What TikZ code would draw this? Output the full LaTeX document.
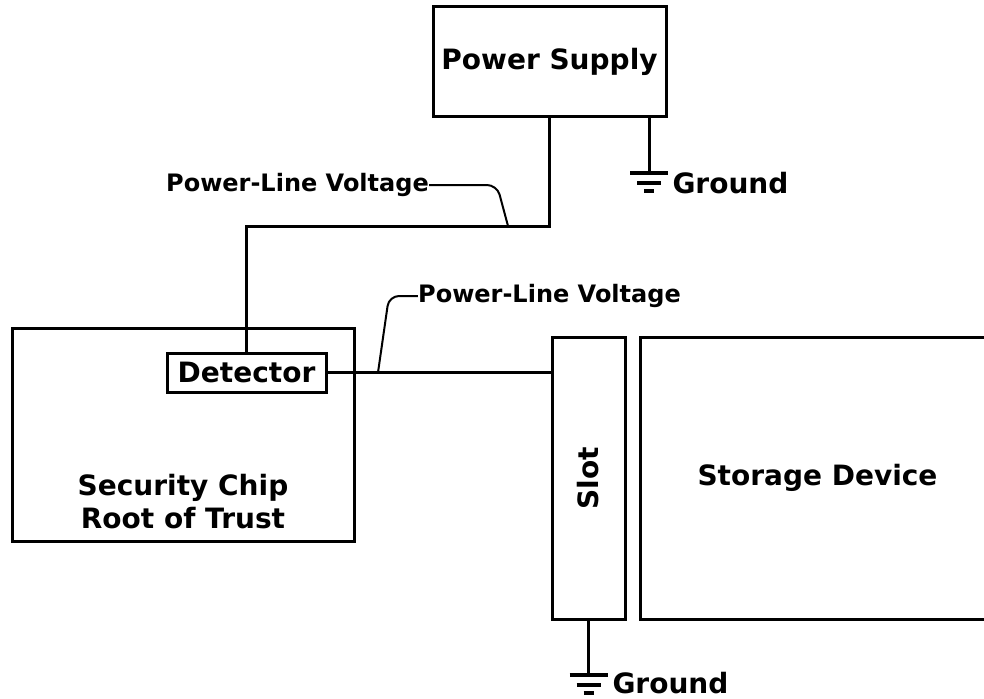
\documentclass[tikz,border=0pt]{standalone}
\usepackage{fontspec}
\setmainfont{DejaVu Sans}
\usetikzlibrary{positioning}
\tikzset{
  box/.style={draw, line width=3pt, rectangle, inner sep=0pt, font=\bfseries\fontsize{28}{33}\selectfont},
  lbl/.style={font=\bfseries\fontsize{24}{28}\selectfont, inner sep=0pt},
  wire/.style={line width=3pt},
  lead/.style={line width=2pt, rounded corners=10pt},
  gndsym/.pic={
    \foreach \w/\d in {19/0,12/10,5/18}
      \draw[line width=3.2pt] (-\w,\d) -- (\w,\d);
  }
}
\begin{document}
\begin{tikzpicture}[x=1pt, y=-1pt]
    \useasboundingbox (0,0) rectangle (984,698);
    % boxes
    \node[box, minimum width=233, minimum height=110] (ps) at (549.5,62) {Power Supply};
    \node[box, minimum width=342, minimum height=213] (chip) at (183,434.5) {};
    \node[font=\bfseries\fontsize{28}{33}\selectfont, align=center] (chiptxt) at (183,502) {Security Chip\\Root of Trust};
    \node[box, minimum width=159, minimum height=39] (det) at (246.5,372.5) {Detector};
    \node[box, minimum width=73, minimum height=282] (slot) at (588.5,478) {\rotatebox{90}{Slot}};
    \node[box, minimum width=355, minimum height=282] (store) at (817.5,478) {Storage Device};
    % grounds
    \coordinate (gnd1) at (649,173);
    \coordinate (gnd2) at (588.5,675);
    \draw[wire] (ps.south -| gnd1) -- (gnd1);
    \draw[wire] (slot.south) -- (gnd2);
    \pic at (gnd1) {gndsym};
    \pic at (gnd2) {gndsym};
    \node[box, draw=none, anchor=base west] (gtxt1) at (671,193) {Ground};
    \node[box, draw=none, anchor=base west] (gtxt2) at (611,693) {Ground};
    % power lines
    \draw[wire] (ps.south) -- (ps.south |- 0,226) -| (det.north);
    \draw[wire] (det.east) -- (det.east -| slot.west);
    % labels
    \node[lbl] (pv1) at (297.5,185) {Power-Line Voltage};
    \node[lbl] (pv2) at (549.5,296) {Power-Line Voltage};
    \coordinate (tap1) at (508,226);
    \coordinate (tap2) at (378,372.5);
    \draw[lead] (pv1.east) -- (497,185) -- (tap1);
    \draw[lead] (pv2.west) -- (389,296) -- (tap2);
\end{tikzpicture}
\end{document}
